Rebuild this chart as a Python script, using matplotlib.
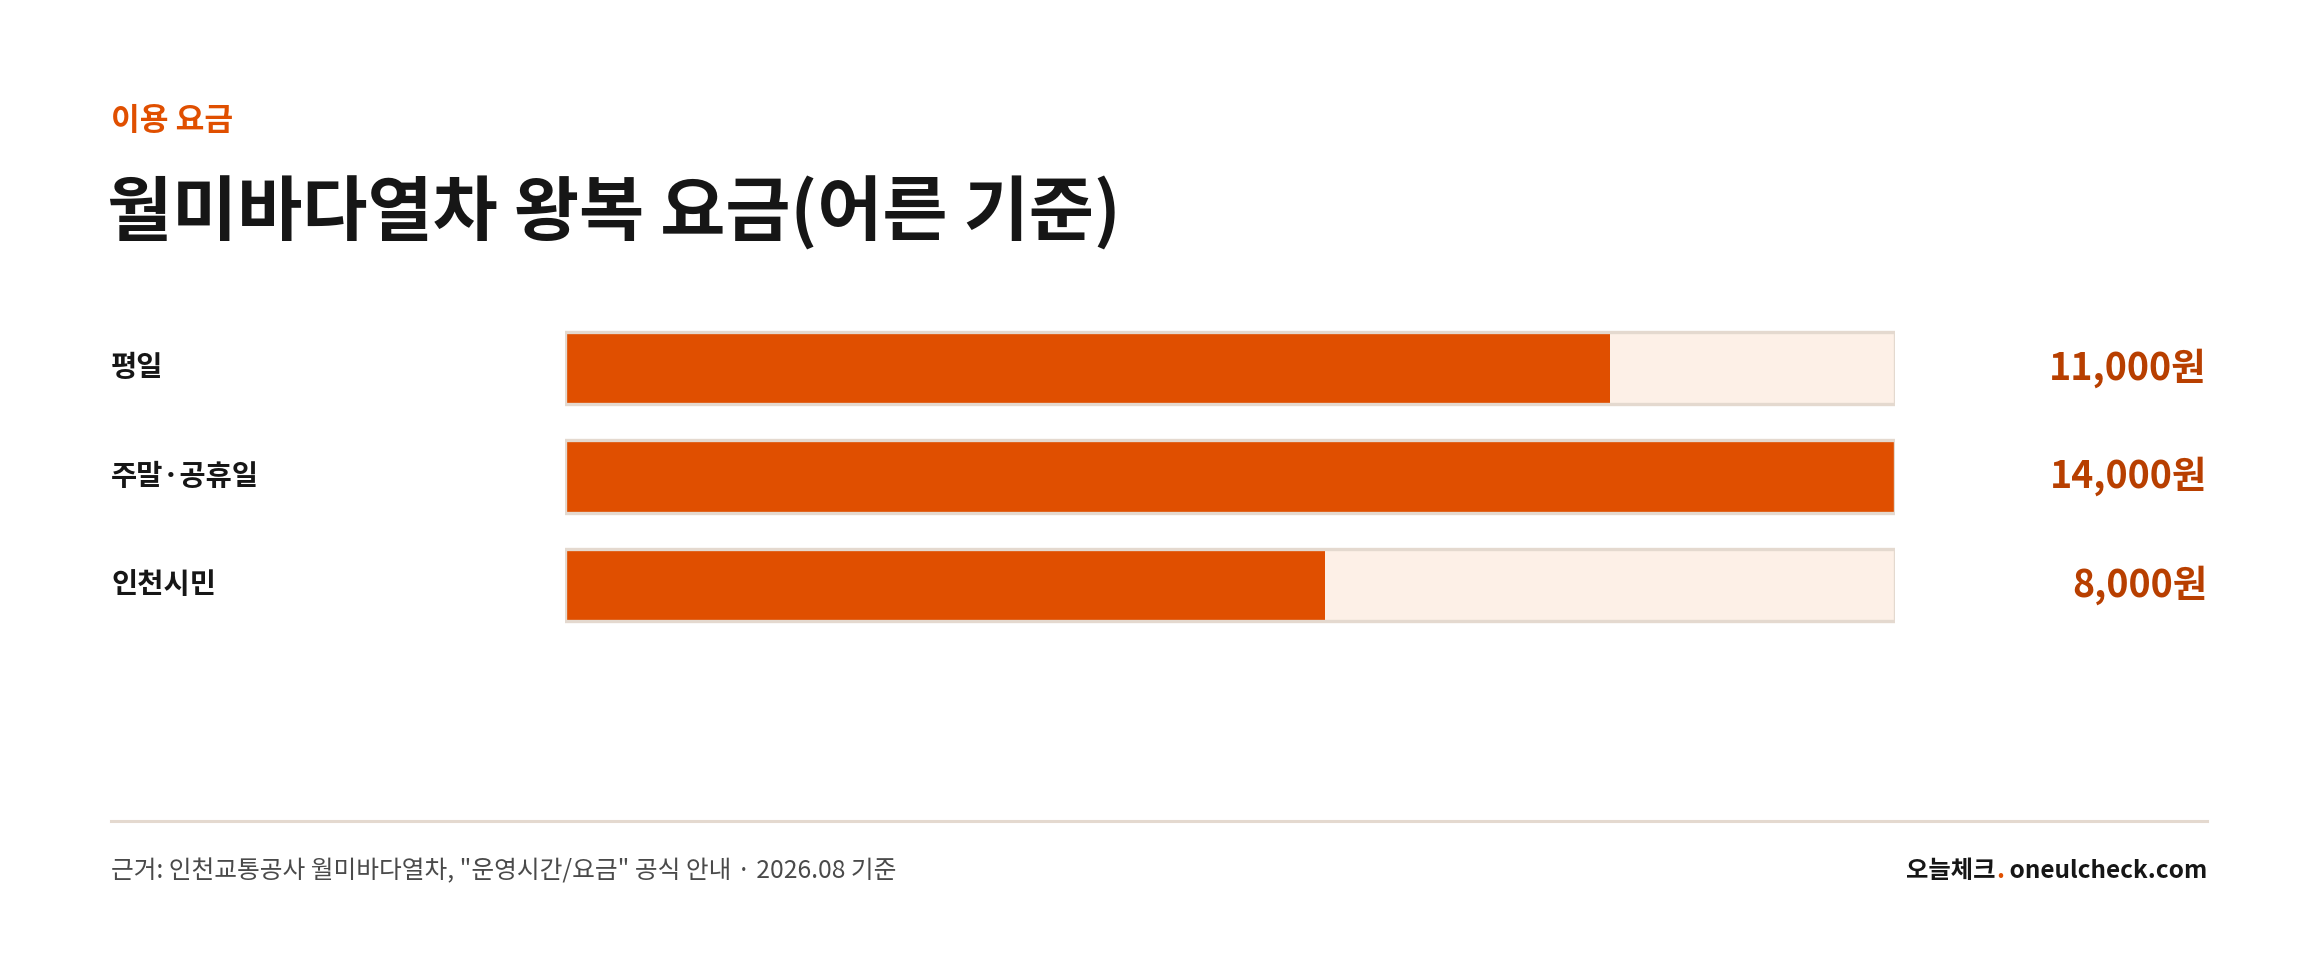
import matplotlib
matplotlib.use('Agg')
import matplotlib.pyplot as plt
import matplotlib.transforms as mtransforms

plt.rcParams['font.family'] = ['Noto Sans CJK KR', 'DejaVu Sans']

# data
categories = ['평일', '주말·공휴일', '인천시민']
fares = [11000, 14000, 8000]
fare_labels = ['11,000원', '14,000원', '8,000원']
fare_max = 14000

eyebrow = '이용 요금'
title = '월미바다열차 왕복 요금(어른 기준)'
source = '근거: 인천교통공사 월미바다열차, "운영시간/요금" 공식 안내 · 2026.08 기준'

ORANGE = '#E04F00'
DARK_ORANGE = '#B83F00'
TRACK = '#FDF0E7'
BORDER = '#E4D9CF'
INK = '#161616'

W, H = 2320, 966
fig = plt.figure(figsize=(W / 100, H / 100), dpi=100)
fig.patch.set_facecolor('white')

def fx(px):
    return px / W

def fy(py):
    return 1 - py / H

RIGHT = 2207

fig.text(fx(111), fy(121), eyebrow, color=ORANGE, fontsize=22.5, fontweight='bold',
         ha='left', va='center')
fig.text(fx(107), fy(213), title, color=INK, fontsize=51, fontweight='bold',
         ha='left', va='center')

# bars
ax = fig.add_axes([fx(565), fy(639.5), fx(1895) - fx(565), (639.5 - 313.5) / H])
ypos = list(range(len(categories)))
ax.barh(ypos, [fare_max] * len(ypos), height=0.665, color=TRACK, zorder=1)
ax.barh(ypos, fares, height=0.665, color=ORANGE, zorder=2)
ax.barh(ypos, [fare_max] * len(ypos), height=0.665, facecolor='none',
        edgecolor=BORDER, linewidth=2.4, zorder=3)
ax.set_xlim(0, fare_max)
ax.set_ylim(len(categories) - 0.5, -0.5)
ax.axis('off')

tr = mtransforms.blended_transform_factory(fig.transFigure, ax.transData)
for i, (cat, lab) in enumerate(zip(categories, fare_labels)):
    ax.text(fx(111), i, cat, transform=tr, color=INK, fontsize=20.5, fontweight='bold',
            ha='left', va='center')
    ax.text(fx(RIGHT), i, lab, transform=tr, color=DARK_ORANGE, fontsize=27,
            fontweight='bold', ha='right', va='center')

# footer
fig.add_artist(plt.Line2D([fx(111), fx(RIGHT)], [fy(821), fy(821)], color=BORDER,
                          linewidth=2.2))
fig.text(fx(111), fy(871), source, color='#4A4A4A', fontsize=17.8, fontweight='medium',
         ha='left', va='center')

renderer = fig.canvas.get_renderer()
x_right = fx(RIGHT)
parts = [(' oneulcheck.com', INK), ('.', ORANGE), ('오늘체크', INK)]
for txt, col in parts:
    t = fig.text(x_right, fy(871), txt, color=col, fontsize=17.5, fontweight='bold',
                 ha='right', va='center')
    bb = t.get_window_extent(renderer=renderer)
    x_right -= bb.width / W

fig.savefig('out.png', dpi=100, facecolor='white')
